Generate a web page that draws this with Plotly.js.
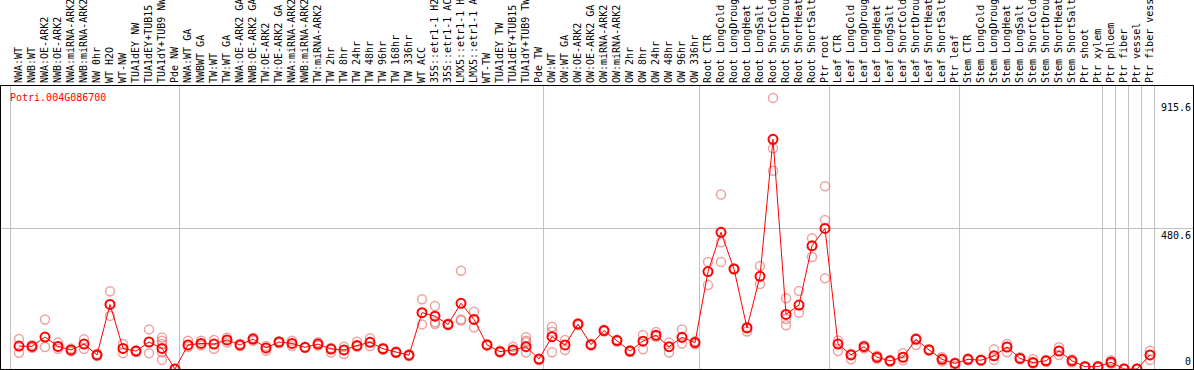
<!DOCTYPE html>
<html>
<head>
<meta charset="utf-8">
<script src="https://cdn.plot.ly/plotly-3.0.1.min.js"></script>
<style>html,body{margin:0;padding:0;background:#fff;}#chart{width:1194px;height:370px;}</style>
</head>
<body>
<div id="chart"></div>
<script>
const categories = [
  "NWA:WT","NWB:WT","NWA:OE-ARK2","NWB:OE-ARK2","NWA:miRNA-ARK2","NWB:miRNA-ARK2","NW 0hr","WT H2O","WT-NW","TUA1dEY NW","TUA1dEY+TUB15","TUA1dY+TUB9 NW","Pde NW",
  "NWA:WT GA","NWBWT GA","TW:WT","TW:WT GA","NWA:OE-ARK2 GA","NWB:OE-ARK2 GA","TW:OE-ARK2","TW:OE-ARK2 GA","NWA:miRNA-ARK2","NWB:miRNA-ARK2","TW:miRNA-ARK2","TW 2hr","TW 8hr","TW 24hr","TW 48hr","TW 96hr","TW 168hr","TW 336hr","WT ACC","35S::etr1-1 H2","35S::etr1-1 AC","LMX5::etr1-1 H","LMX5::etr1-1 A","WT-TW","TUA1dEY TW","TUA1dEY+TUB15","TUA1dY+TUB9 TW","Pde TW",
  "OW:WT","OW:WT GA","OW:OE-ARK2","OW:OE-ARK2 GA","OW:miRNA-ARK2","OW:miRNA-ARK2","OW 2hr","OW 8hr","OW 24hr","OW 48hr","OW 96hr","OW 336hr",
  "Root CTR","Root LongCold","Root LongDroug","Root LongHeat","Root LongSalt","Root ShortCold","Root ShortDrou","Root ShortHeat","Root ShortSalt","Ptr root",
  "Leaf CTR","Leaf LongCold","Leaf LongDroug","Leaf LongHeat","Leaf LongSalt","Leaf ShortCold","Leaf ShortDrou","Leaf ShortHeat","Leaf ShortSalt","Ptr leaf",
  "Stem CTR","Stem LongCold","Stem LongDroug","Stem LongHeat","Stem LongSalt","Stem ShortCold","Stem ShortDrou","Stem ShortHeat","Stem ShortSalt","Ptr shoot","Ptr xylem","Ptr phloem","Ptr fiber","Ptr vessel","Ptr fiber vess"
];

const meanValues = [
  78,77,109,77,65,85,48,220,70,61,92,70,0,
  82,87,85,99,82,102,72,92,87,74,85,68,65,80,91,69,57,47,192,180,152,224,169,82,59,65,76,34,
  110,82,153,83,131,97,61,95,115,76,108,90,
  332,466,341,140,316,783,186,218,420,479,
  85,48,76,40,28,40,101,65,33,19,
  33,30,45,75,36,22,28,61,28,8,8,23,0,0,48
];

const replicates = [
  [102,55],[72,82],[169,75],[90,69],[70,60],[101,68],[52,44],[265,181],[85,54],[63,58],[135,54],[107,96,85,57,31],[0,0],
  [96,75],[96,80],[99,69],[107,90],[86,78],[106,96],[62,78],[95,88],[96,78],[74,72],[91,80],[56,72],[76,51],[93,76],[105,78],[72,66],[60,54],[50,44],[238,152],[215,159,153],[155,150],[335,169,165],[195,142],[85,80],[56,62],[76,60],[108,96,91,56],[34,30],
  [144,127,57],[99,65],[156,150],[86,80],[134,128],[100,94],[58,64],[116,67],[126,110],[90,56],[135,87],[95,84],
  [365,286],[595,432,365],[343,339],[128,143],[351,290],[924,752,676],[241,170,149],[266,192],[446,382],[623,508,309],
  [97,61],[33,52],[80,70],[45,35],[25,30],[54,30],[82,105],[62,68],[40,26],[10,22],
  [30,36],[28,32],[67,31],[85,57],[40,33],[33,18],[25,31],[74,48],[22,32],[5,10],[5,10],[30,18],[0,2],[0,2],[62,31]
];

const groupEnds = [-1, 12, 40, 52, 62, 72, 83, 84, 85, 86, 87];
const yLabels = [915.6, 480.6, 0];
const geneName = "Potri.004G086700";

const idx = categories.map((c, i) => i);
const repX = [], repY = [];
replicates.forEach((arr, i) => arr.forEach(v => { repX.push(i); repY.push(v); }));

const FONT = "DejaVu Sans Mono, Liberation Mono, monospace";

const traces = [
  {
    x: repX, y: repY, type: 'scatter', mode: 'markers', cliponaxis: false, hoverinfo: 'skip',
    marker: { symbol: 'circle-open', size: 9, color: 'rgba(228,100,100,0.6)', line: { width: 1.5 } }
  },
  {
    x: idx, y: meanValues, type: 'scatter', mode: 'lines+markers', cliponaxis: false,
    line: { color: '#ff0000', width: 1 },
    marker: { symbol: 'circle-open', size: 9, color: '#ff0000', line: { width: 2 } }
  }
];

const shapes = groupEnds.map(g => ({
  type: 'line', xref: 'x', yref: 'paper', x0: g + 0.35, x1: g + 0.35, y0: 0, y1: 1,
  line: { color: '#c0c0c0', width: 1 }, layer: 'below'
}));

const annotations = [
  { text: geneName, xref: 'paper', yref: 'paper', x: 0.006, y: 0.985, xanchor: 'left', yanchor: 'top',
    showarrow: false, font: { family: FONT, size: 10, color: '#ff0000' } }
].concat(yLabels.map(v => ({
  text: String(v), xref: 'paper', yref: 'y', x: 1.0, y: v, xanchor: 'right', yanchor: v === 0 ? 'bottom' : 'top',
  showarrow: false, font: { family: FONT, size: 10, color: '#000' }
})));

const layout = {
  width: 1194, height: 370,
  margin: { l: 1, r: 1, t: 86, b: 1, pad: 0 },
  paper_bgcolor: '#fff', plot_bgcolor: '#fff',
  showlegend: false,
  font: { family: FONT, size: 10, color: '#000' },
  xaxis: {
    side: 'top', range: [-1.3846, 90.308], tickmode: 'array', tickvals: idx, ticktext: categories,
    tickangle: -90, ticks: '', showgrid: false, zeroline: false, automargin: false,
    showline: true, mirror: true, linecolor: '#000', linewidth: 1,
    tickfont: { family: FONT, size: 10, color: '#000' }
  },
  yaxis: {
    range: [0, 964.6], tickmode: 'array', tickvals: [480.6], showticklabels: false, ticks: '',
    showgrid: true, gridcolor: '#c0c0c0', gridwidth: 1, zeroline: false, automargin: false,
    showline: true, mirror: true, linecolor: '#000', linewidth: 1
  },
  shapes: shapes,
  annotations: annotations
};

Plotly.newPlot('chart', traces, layout, { staticPlot: true, displayModeBar: false });
</script>
</body>
</html>
